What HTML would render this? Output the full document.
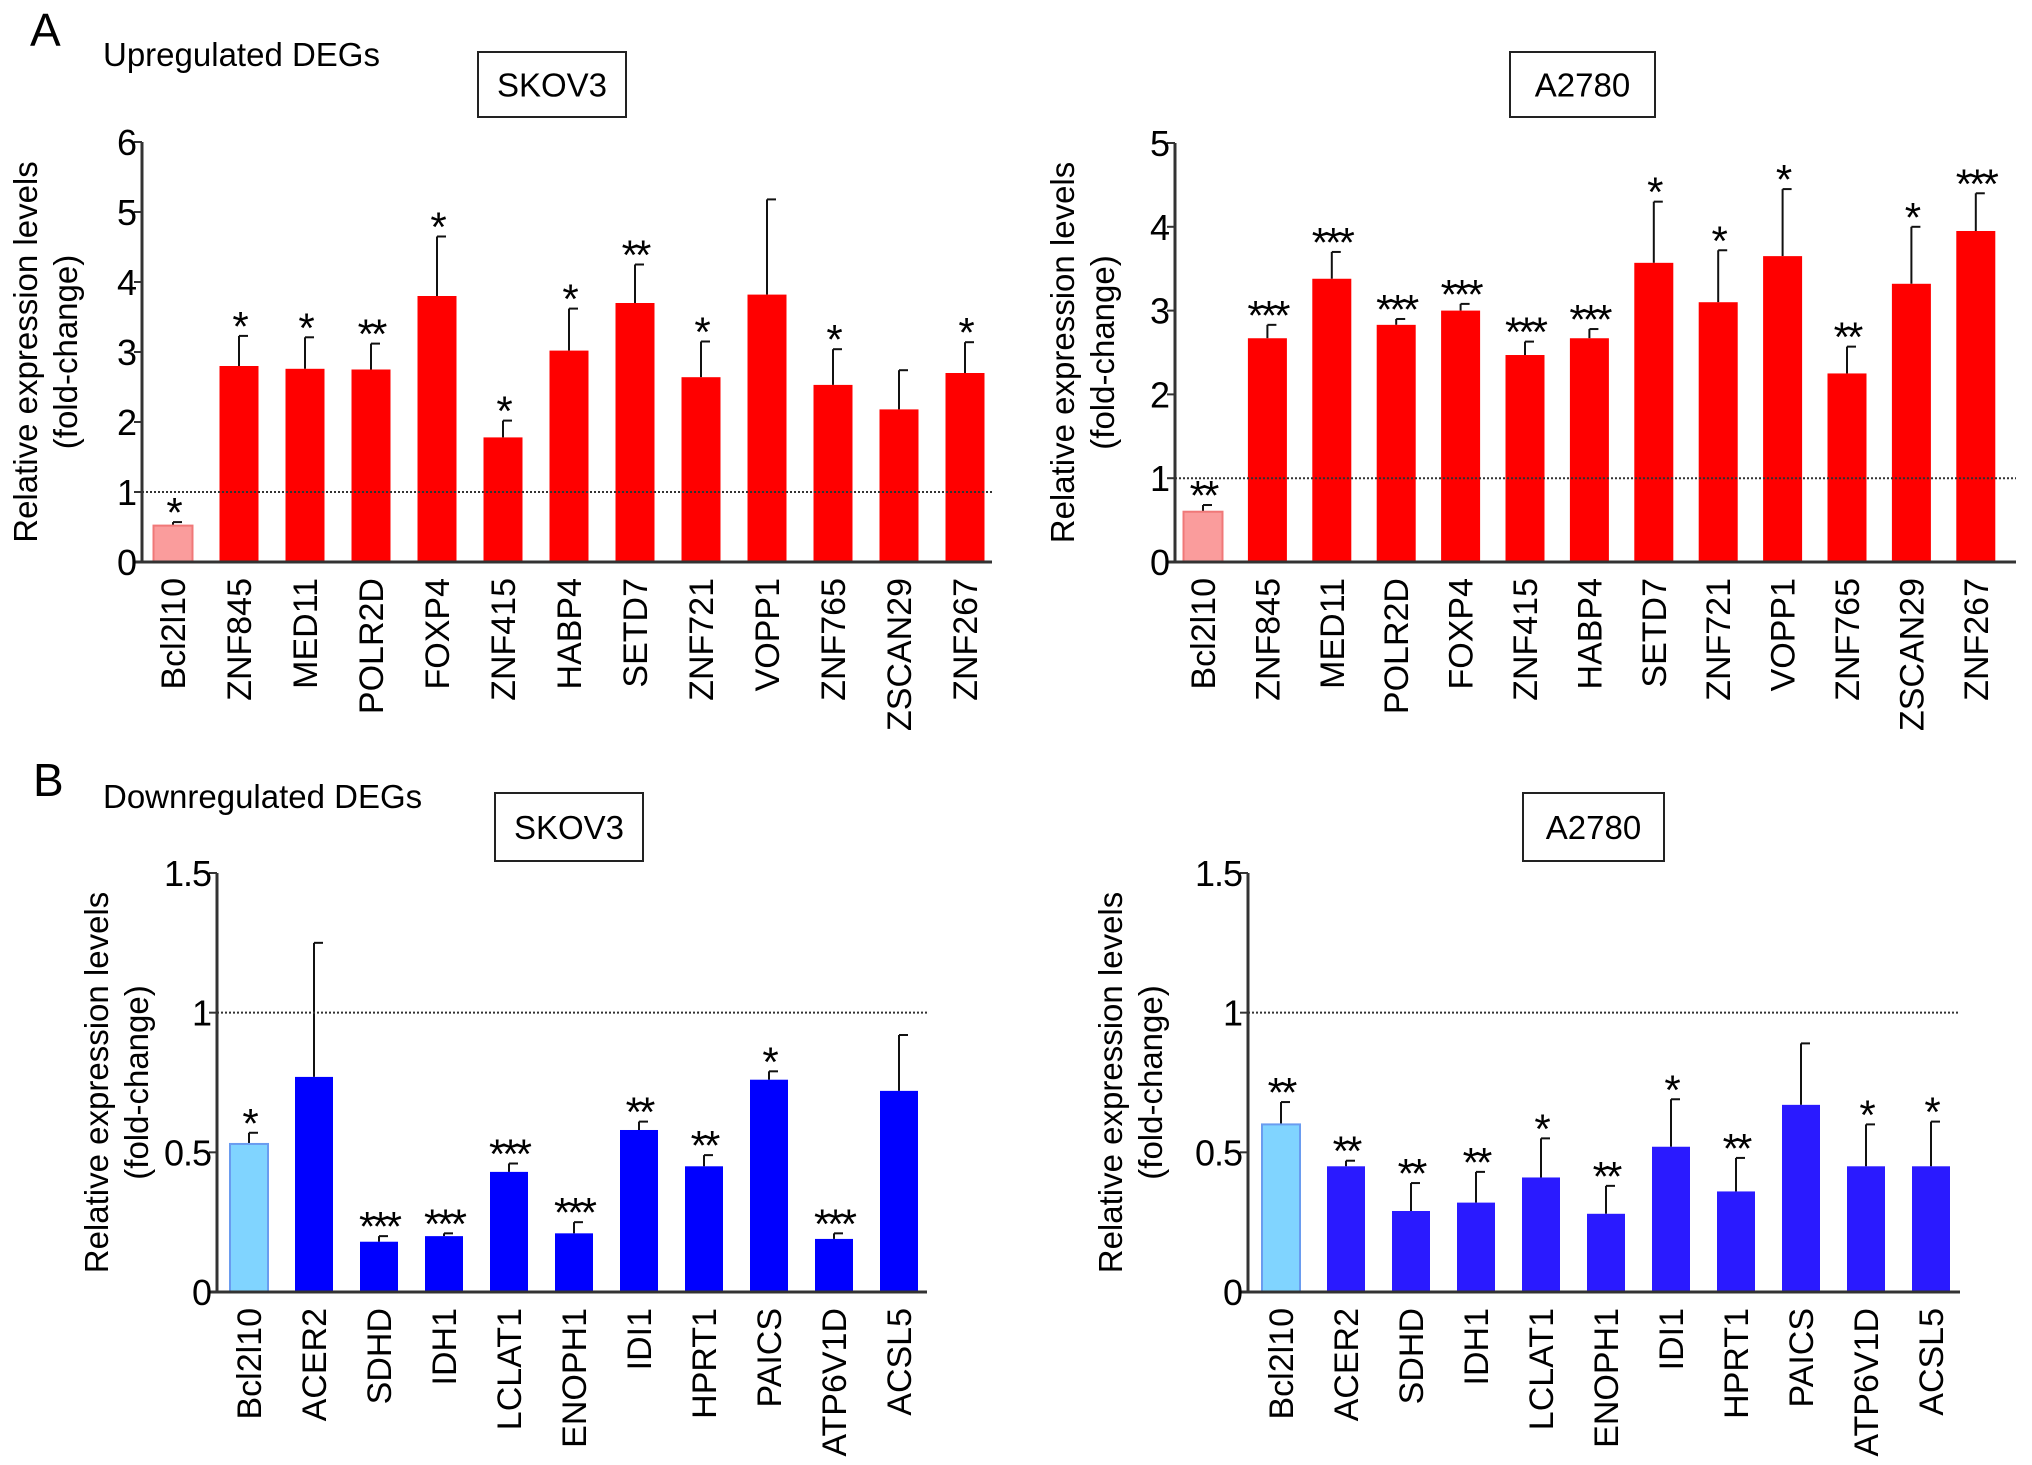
<!DOCTYPE html>
<html><head><meta charset="utf-8"><style>
html,body{margin:0;padding:0;background:#fff}
svg{display:block;font-family:"Liberation Sans",Arial,sans-serif}
</style></head><body>
<svg id="fig" width="2032" height="1465" viewBox="0 0 2032 1465" xmlns="http://www.w3.org/2000/svg">
<text x="30" y="46" font-size="46">A</text>
<text x="103" y="66" font-size="33">Upregulated DEGs</text>
<text x="33" y="796" font-size="46">B</text>
<text x="103" y="808" font-size="33">Downregulated DEGs</text>
<g id="charts"></g>
</svg>
<script>
const upCats = ["Bcl2l10","ZNF845","MED11","POLR2D","FOXP4","ZNF415","HABP4","SETD7","ZNF721","VOPP1","ZNF765","ZSCAN29","ZNF267"];
const upSkovVals = [0.52,2.80,2.76,2.75,3.80,1.78,3.02,3.70,2.64,3.82,2.53,2.18,2.70];
const upSkovErr  = [0.05,0.43,0.45,0.37,0.85,0.24,0.60,0.55,0.51,1.36,0.51,0.56,0.44];
const upSkovSig  = ["*","*","*","**","*","*","*","**","*","","*","","*"];
const upA27Vals = [0.60,2.67,3.38,2.83,3.00,2.47,2.67,3.57,3.10,3.65,2.25,3.32,3.95];
const upA27Err  = [0.08,0.16,0.32,0.07,0.08,0.16,0.11,0.73,0.62,0.80,0.32,0.68,0.45];
const upA27Sig  = ["**","***","***","***","***","***","***","*","*","*","**","*","***"];
const downCats = ["Bcl2l10","ACER2","SDHD","IDH1","LCLAT1","ENOPH1","IDI1","HPRT1","PAICS","ATP6V1D","ACSL5"];
const downSkovVals = [0.53,0.77,0.18,0.20,0.43,0.21,0.58,0.45,0.76,0.19,0.72];
const downSkovErr  = [0.04,0.48,0.02,0.01,0.03,0.04,0.03,0.04,0.03,0.02,0.20];
const downSkovSig  = ["*","","***","***","***","***","**","**","*","***",""];
const downA27Vals = [0.60,0.45,0.29,0.32,0.41,0.28,0.52,0.36,0.67,0.45,0.45];
const downA27Err  = [0.08,0.02,0.10,0.11,0.14,0.10,0.17,0.12,0.22,0.15,0.16];
const downA27Sig  = ["**","**","**","**","*","**","*","**","","*","*"];
const upSkovTicks = ["0","1","2","3","4","5","6"];
const upA27Ticks = ["0","1","2","3","4","5"];
const downTicks = ["0","0.5","1","1.5"];

const NS="http://www.w3.org/2000/svg";
const root=document.getElementById('charts');
function mk(tag,attrs,parent){const e=document.createElementNS(NS,tag);for(const k in attrs)e.setAttribute(k,attrs[k]);(parent||root).appendChild(e);return e;}

function chart(o){
  const g=mk('g',{});
  
  
  const ys=v=>o.y0-(v/o.ymax)*(o.y0-o.ytop);
  const xs=i=>o.c0+i*o.step;
  const tb=mk('rect',{x:o.bx,y:o.by,width:o.bw,height:o.bh,fill:'#fff',stroke:'#222','stroke-width':2},g);
  
  
  const tt=mk('text',{x:o.bx+o.bw/2,y:o.by+o.bh/2+12,'font-size':33,'text-anchor':'middle'},g);
  tt.textContent=o.title;
  
  
  o.vals.forEach((v,i)=>{
    const x=xs(i),w=o.bw2,top=ys(v),etop=ys(v+o.err[i]);
    const el=mk('line',{x1:x,x2:x,y1:top,y2:etop,stroke:'#111','stroke-width':2},g);
    
    
    const ec=mk('line',{x1:x,x2:x+9,y1:etop,y2:etop,stroke:'#111','stroke-width':2},g);
    
    
    const b=mk('rect',{x:x-w/2,y:top,width:w,height:o.y0-top,fill:i==0?o.c1:o.col,stroke:i==0?o.s1:o.col,'stroke-width':i==0?2:0},g);
    
    
    if(o.sig[i]){
      const s=mk('text',{x:x,y:etop+5,'font-size':42,'text-anchor':'middle','letter-spacing':'-3'},g);
      s.textContent=o.sig[i];
      
      
    }
    const lb=mk('text',{x:0,y:0,'font-size':34,'text-anchor':'end',transform:`translate(${x+12},${o.y0+16}) rotate(-90)`},g);
    lb.textContent=o.cats[i];
    
    
  });
  const dl=mk('line',{x1:o.ax,x2:o.xend,y1:ys(1),y2:ys(1),stroke:'#333','stroke-width':2,'stroke-dasharray':'2,2'},g);
  
  
  const ya=mk('line',{x1:o.ax,x2:o.ax,y1:o.ytop,y2:o.y0,stroke:'#333','stroke-width':3},g);
  
  
  const xa=mk('line',{x1:o.ax-8,x2:o.xend,y1:o.y0,y2:o.y0,stroke:'#333','stroke-width':3},g);
  
  
  o.ticks.forEach(t=>{
    const y=ys(parseFloat(t));
    const tk=mk('line',{x1:o.ax-8,x2:o.ax,y1:y,y2:y,stroke:'#333','stroke-width':2},g);
    
    
    const tl=mk('text',{x:o.ax-6,y:y+13,'font-size':36,'text-anchor':'end','letter-spacing':'-1'},g);
    tl.textContent=t;
    
    
  });
  const cy=(o.ytop+o.y0)/2;
  const t1=mk('text',{x:0,y:0,'font-size':33,'text-anchor':'middle',transform:`translate(${o.tx},${cy}) rotate(-90)`},g);
  t1.textContent='Relative expression levels';
  
  
  const t2=mk('text',{x:0,y:0,'font-size':33,'text-anchor':'middle',transform:`translate(${o.tx+40},${cy}) rotate(-90)`},g);
  t2.textContent='(fold-change)';
  
  
}
chart({name:'chart-up-skov3',title:'SKOV3',bx:478,by:52,bw:148,bh:65,cats:upCats,vals:upSkovVals,err:upSkovErr,sig:upSkovSig,
  ticks:upSkovTicks,ymax:6,y0:562,ytop:142,ax:142,xend:992,c0:173,step:66,bw2:39,col:'#ff0000',c1:'#fa9c9c',s1:'#f07878',tx:37});
chart({name:'chart-up-a2780',title:'A2780',bx:1510,by:52,bw:145,bh:65,cats:upCats,vals:upA27Vals,err:upA27Err,sig:upA27Sig,
  ticks:upA27Ticks,ymax:5,y0:562,ytop:143,ax:1175,xend:2016,c0:1203,step:64.4,bw2:39,col:'#ff0000',c1:'#fa9c9c',s1:'#f07878',tx:1074});
chart({name:'chart-down-skov3',title:'SKOV3',bx:495,by:793,bw:148,bh:68,cats:downCats,vals:downSkovVals,err:downSkovErr,sig:downSkovSig,
  ticks:downTicks,ymax:1.5,y0:1292,ytop:873,ax:217,xend:927,c0:249,step:65,bw2:38,col:'#0000ff',c1:'#80d4ff',s1:'#6a9cf0',tx:108});
chart({name:'chart-down-a2780',title:'A2780',bx:1523,by:793,bw:141,bh:68,cats:downCats,vals:downA27Vals,err:downA27Err,sig:downA27Sig,
  ticks:downTicks,ymax:1.5,y0:1292,ytop:873,ax:1248,xend:1960,c0:1281,step:65,bw2:38,col:'#2a1aff',c1:'#80d4ff',s1:'#6a9cf0',tx:1122});
</script>
</body></html>
